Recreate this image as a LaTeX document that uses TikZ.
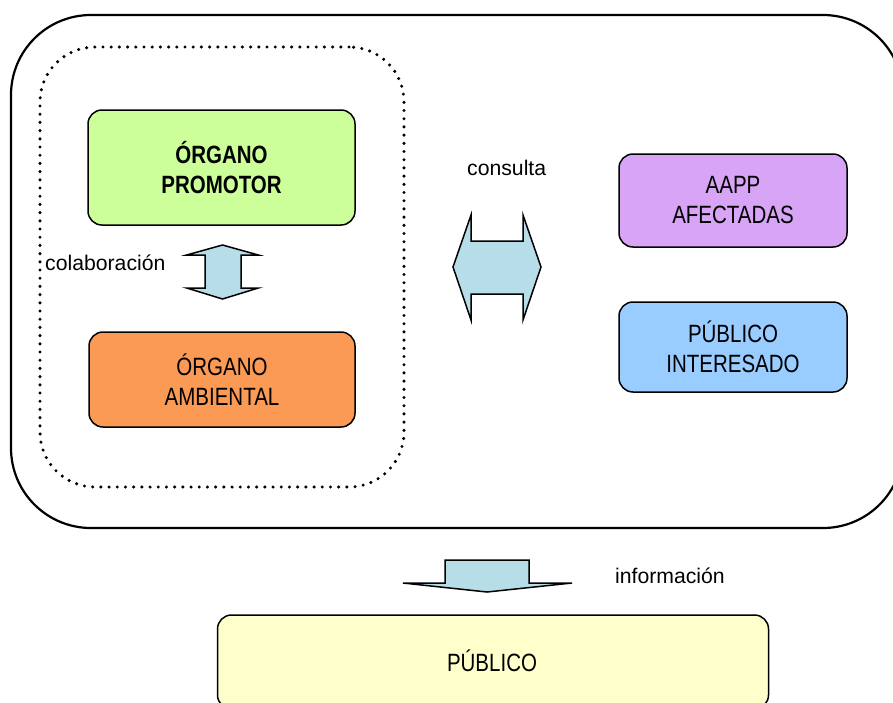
\documentclass[tikz,border=0pt]{standalone}
\usepackage{fontspec}
\setmainfont{Liberation Sans}
\newfontfamily\narrowfont[FakeStretch=0.82]{Liberation Sans}
\definecolor{cgreen}{HTML}{CCFF99}
\definecolor{corange}{HTML}{FB9A55}
\definecolor{cpurple}{HTML}{D8A4F6}
\definecolor{cblue}{HTML}{99CCFF}
\definecolor{cyellow}{HTML}{FFFFCC}
\definecolor{carrow}{HTML}{B7DEE8}
\tikzset{
  box/.style={draw=black, line width=1.5pt, rounded corners=14pt, align=center,
    font=\narrowfont\fontsize{25}{30}\selectfont, inner sep=0pt},
  lbl/.style={font=\fontsize{21.2}{25}\selectfont, inner sep=0pt, anchor=base west},
  bigarrow/.style={draw=black, line width=1.5pt, fill=carrow, line join=miter}
}
\begin{document}
\begin{tikzpicture}[x=1pt,y=-1pt]
\useasboundingbox (0,0) rectangle (893,702);
\fill[white] (0,0) rectangle (893,702);
% outer container
\node[draw=black, line width=2.2pt, rounded corners=80pt, minimum width=892pt, minimum height=513pt, inner sep=0pt] (outer) at (457,271.5) {};
% dotted group
\node[draw=black, line width=3.4pt, line cap=round, dash pattern=on 0pt off 8.2pt, rounded corners=55pt, minimum width=364pt, minimum height=440pt, inner sep=0pt] (group) at (222,267) {};
% boxes
\node[box, fill=cgreen, minimum width=267pt, minimum height=115pt] (promotor) at (221.5,167.5) {\bfseries ÓRGANO\\\bfseries PROMOTOR};
\node[box, fill=corange, minimum width=266pt, minimum height=95pt] (ambiental) at (222,379.5) {ÓRGANO\\AMBIENTAL};
\node[box, fill=cpurple, minimum width=228pt, minimum height=93pt] (aapp) at (733,200.5) {AAPP\\AFECTADAS};
\node[box, fill=cblue, minimum width=228pt, minimum height=90pt] (interesado) at (733,347) {PÚBLICO\\INTERESADO};
\node[box, fill=cyellow, minimum width=551pt, minimum height=94pt, text depth=0pt] (publico) at (493,662) {};
\node[font=\narrowfont\fontsize{25}{30}\selectfont, inner sep=0pt, anchor=base] (publicotext) at (492,671) {PÚBLICO};
% colaboracion arrow
\draw[bigarrow] (222.5,245) -- (258.3,255) -- (241,255) -- (241,288) -- (258.3,288) -- (222.5,299) -- (186.7,288) -- (205,288) -- (205,255) -- (186.7,255) -- cycle;
\node[lbl] (colab) at (45,270) {colaboración};
% consulta arrow
\draw[bigarrow] (453,267) -- (471,215) -- (471,241) -- (523,241) -- (523,215) -- (541,267) -- (523,320) -- (523,294) -- (471,294) -- (471,320) -- cycle;
\node[lbl] (consulta) at (467,175) {consulta};
% informacion arrow
\draw[bigarrow] (445,560) -- (529,560) -- (529,583) -- (572,583) -- (487,592) -- (403,583) -- (445,583) -- cycle;
\node[lbl] (info) at (615,583) {información};
\end{tikzpicture}
\end{document}
